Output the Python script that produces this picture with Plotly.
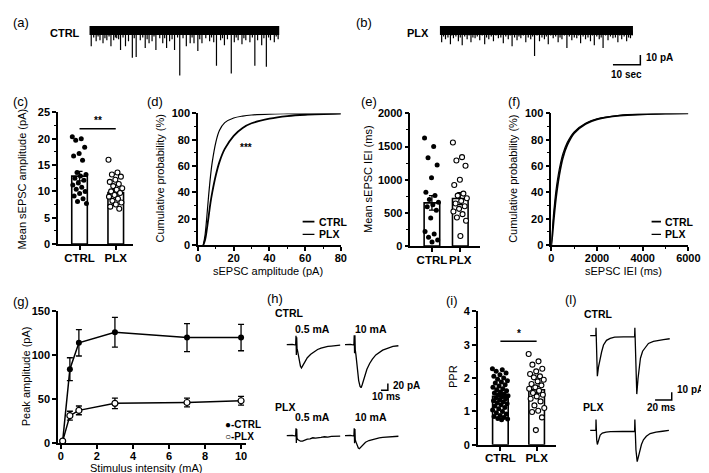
import plotly.graph_objects as go

W, H = 709, 473
FONT = "Liberation Sans"

# ---------------- data ----------------
groups = ["CTRL", "PLX"]

# (a),(b) spontaneous EPSC recordings: event times (s) and peak amplitudes (pA)
ctrl_trace_len_s = 69.3
ctrl_event_t = [0.7, 2.5, 3.9, 5.0, 6.4, 7.9, 8.9, 10.0, 11.4, 13.2, 14.3, 15.7, 17.1, 18.6,
                20.4, 21.8, 22.9, 24.3, 25.7, 26.8, 28.2, 29.3, 31.1, 33.0, 35.4, 36.8, 38.2,
                39.6, 41.1, 42.5, 43.9, 45.4, 46.4, 47.9, 49.3, 50.4, 51.8, 52.9, 54.3, 55.7,
                57.1, 58.6, 60.4, 61.4, 62.9, 64.6, 66.1, 67.5, 68.9]
ctrl_event_pa = [-16, -11, -10, -13, -10, -16, -10, -8, -20, -16, -11, -28, -27, -10,
                 -18, -13, -11, -20, -8, -13, -18, -11, -20, -46, -16, -13, -13,
                 -21, -13, -8, -11, -12, -36, -10, -15, -9, -44, -12, -10, -14,
                 -10, -12, -36, -10, -15, -37, -10, -12, -9]
ctrl_small_t = [1.6, 3.2, 5.7, 7.2, 9.5, 10.7, 12.3, 16.4, 19.5, 21.1, 23.6, 27.5, 30.2,
                32.2, 34.2, 37.5, 40.3, 44.6, 48.6, 53.6, 56.4, 59.5, 63.7, 65.4, 68.2]
ctrl_small_pa = [-7, -6, -8, -6, -7, -9, -7, -8, -7, -9, -6, -8, -9,
                 -7, -8, -7, -9, -7, -8, -7, -8, -7, -8, -7, -6]
plx_trace_len_s = 70.5
plx_event_t = [0.7, 2.1, 3.9, 5.0, 6.8, 8.2, 10.0, 11.4, 12.9, 14.6, 16.4, 17.9, 19.6, 21.4,
               23.2, 25.0, 26.4, 28.2, 29.6, 31.4, 33.2, 34.6, 36.4, 38.2, 39.6, 41.4, 43.2,
               44.6, 46.4, 48.2, 50.0, 51.4, 53.2, 55.0, 56.4, 58.2, 59.6, 61.4, 63.2, 65.0,
               66.4, 68.2, 69.6]
plx_event_pa = [-12, -9, -14, -8, -11, -15, -9, -12, -8, -10, -14, -9, -11, -8,
                -13, -9, -16, -10, -8, -12, -9, -26, -11, -9, -14, -8, -12,
                -9, -18, -10, -8, -13, -9, -11, -15, -9, -18, -10, -8, -12,
                -9, -11, -8]
plx_small_t = [1.4, 3.0, 4.4, 5.9, 7.5, 9.1, 10.7, 12.1, 13.7, 15.5, 17.1, 18.8, 20.5, 22.3,
               24.1, 25.7, 27.3, 28.9, 30.5, 32.3, 33.9, 35.5, 37.3, 38.9, 40.5, 42.3, 43.9,
               45.5, 47.3, 49.1, 50.7, 52.3, 54.1, 55.7, 57.3, 58.9, 60.5, 62.3, 64.1, 65.7,
               67.3, 68.9, 70.2]
plx_small_pa = [-6, -7, -5, -6, -7, -6, -5, -7, -6, -5, -7, -6, -5, -7,
                -6, -5, -7, -6, -5, -7, -6, -5, -7, -6, -5, -6, -7,
                -5, -6, -7, -5, -6, -7, -5, -6, -7, -5, -6, -7, -5,
                -6, -7, -5]
spont_scale_s = 10
spont_scale_pa = 10

# (c) mean sEPSC amplitude (pA)
amp_bar_mean = [12.9, 9.8]
amp_bar_sem = [0.9, 0.5]
amp_cells_ctrl = [20.4, 20.0, 19.7, 18.4, 17.2, 16.7, 15.9, 13.6, 13.2, 12.9, 12.5, 12.1,
                  11.6, 11.2, 10.8, 10.4, 10.0, 9.6, 9.1, 8.6, 8.1, 7.7]
amp_cells_plx = [16.0, 13.6, 13.2, 12.8, 12.2, 11.8, 11.4, 11.0, 10.6, 10.3, 10.0, 9.7,
                 9.3, 9.0, 8.6, 8.2, 7.9, 7.5, 7.1, 6.7]
amp_sig_level = 21.9

# (d) cumulative amplitude distribution
cdf_amp_pa = [3, 4, 5, 6, 7, 8, 10, 12, 15, 20, 25, 30, 40, 50, 60, 80]
cdf_amp_ctrl = [0, 4, 12, 22, 32, 40, 53, 63, 73, 83, 89, 92.5, 96, 98, 99, 99.8]
cdf_amp_plx = [0, 8, 22, 38, 52, 63, 78, 87, 93, 96.5, 98, 98.8, 99.5, 99.8, 100, 100]

# (e) mean sEPSC IEI (ms)
iei_bar_mean = [650, 715]
iei_bar_sem = [110, 90]
iei_cells_ctrl = [1630, 1500, 1330, 1220, 1030, 810, 760, 700, 660, 620, 590, 540, 420,
                  220, 180, 130, 90, 60]
iei_cells_plx = [1560, 1340, 1290, 1210, 1000, 920, 790, 760, 720, 680, 640, 600, 560,
                 520, 480, 430, 380, 150]

# (f) cumulative IEI distribution
cdf_iei_ms = [0, 50, 100, 150, 200, 300, 400, 500, 700, 1000, 1500, 2000, 3000, 4000, 5000, 6000]
cdf_iei_ctrl = [0, 8, 18, 27, 35, 48, 58, 66, 76, 85, 92, 95.5, 98.3, 99.3, 99.8, 100]
cdf_iei_plx = [0, 12, 24, 33, 41, 53, 62, 69, 78, 86, 92.5, 95.8, 98.5, 99.4, 99.8, 100]

# (g) input-output curve
stim_ma = [0.1, 0.5, 1, 3, 7, 10]
peak_ctrl = [2, 84, 114, 126, 120, 120]
peak_ctrl_sem = [1, 13, 15, 17, 16, 15]
peak_plx = [2, 31, 37, 45, 46, 48]
peak_plx_sem = [1, 5, 5, 6, 5, 5]
peak_sig_span = [48, 119]

# (h) evoked EPSC traces: time (ms), current (pA)
h_ctrl_05_t = [0, 8, 13, 13.5, 14, 14.5, 15, 16, 18, 20, 21.5, 23, 26, 30, 35, 40, 45, 50, 55, 60, 65, 70, 78]
h_ctrl_05_pa = [0, 1, -1, 26, -30, 22, -10, -20, -45, -63, -68, -62, -50, -38, -28, -20, -14, -10, -7, -5, -4, -2, -1]
h_ctrl_10_t = [0, 8, 13, 13.5, 14, 14.5, 15, 16, 18, 20, 22, 23.5, 25, 28, 32, 36, 40, 45, 50, 55, 60, 65, 70, 78]
h_ctrl_10_pa = [0, 1, -1, 28, -25, 28, -15, -30, -70, -105, -122, -126, -118, -95, -72, -55, -42, -30, -22, -16, -12, -8, -5, -3]
h_plx_05_t = [0, 8, 13, 13.5, 14, 14.5, 15, 16, 18, 20, 23, 26, 30, 34, 38, 42, 46, 50, 55, 60, 65, 70, 78]
h_plx_05_pa = [0, 1, -1, 22, -21, 20, -8, -11, -14, -16, -16, -13, -10, -9, -6, -7, -5, -5, -3, -4, -2, -2, -1]
h_plx_10_t = [0, 8, 13, 13.5, 14, 14.5, 15, 16, 18, 19.5, 21, 23, 26, 30, 35, 40, 45, 50, 55, 60, 65, 70, 78]
h_plx_10_pa = [0, 1, -1, 22, -22, 20, -12, -18, -30, -36, -38, -33, -26, -19, -14, -11, -8, -6, -5, -4, -3, -2, -1.5]
h_labels = ["0.5 mA", "10 mA"]
h_scale_ms = 10
h_scale_pa = 20

# (i) paired-pulse ratio
ppr_bar_mean = [1.45, 1.65]
ppr_bar_sem = [0.05, 0.1]
ppr_cells_ctrl = [2.28, 2.25, 2.2, 2.15, 2.1, 2.05, 2.0, 1.96, 1.92, 1.88, 1.85, 1.8, 1.76,
                  1.72, 1.68, 1.65, 1.62, 1.58, 1.55, 1.52, 1.5, 1.47, 1.44, 1.41, 1.38,
                  1.35, 1.32, 1.29, 1.26, 1.23, 1.2, 1.16, 1.12, 1.08, 1.04, 1.0, 0.96,
                  0.92, 0.88, 0.85, 0.82, 0.79, 0.77, 0.75]
ppr_cells_plx = [2.72, 2.50, 2.40, 2.28, 2.20, 2.12, 2.05, 2.02, 1.95, 1.90, 1.82, 1.78,
                 1.72, 1.68, 1.62, 1.55, 1.50, 1.45, 1.38, 1.30, 1.18, 1.10, 1.02, 0.98,
                 0.82, 0.44]
ppr_sig_level = 3.1

# (l) paired-pulse traces: time (ms), current (pA)
l_ctrl_t = [0, 5, 6.8, 7, 7.3, 7.8, 8.6, 10, 12, 13.7, 16, 19.6, 24, 29.4, 40, 50, 53.4, 53.7,
            54.1, 55, 56, 57.5, 60.4, 63, 66.3, 70, 76, 82, 88, 95.6]
l_ctrl_pa = [0, 0, 0, 10, -5, -30, -52, -40, -28, -21, -12, -6, -3.5, -2, -1.5, -1.5, -1.5, 10,
             -10, -55, -75, -55, -29, -20, -15, -10, -7.5, -6, -5, -4]
l_plx_t = [0, 5, 6.8, 7, 7.3, 7.8, 8.6, 10, 12, 14.6, 19, 24.4, 35, 45, 53.4, 53.7, 54.1, 55,
           56.5, 58.5, 61.6, 64, 67.5, 72, 79, 87, 94.6]
l_plx_pa = [0, 0, 0, 14, -4, -12, -18, -12, -6, -3.4, -2, -1.5, -1, -1, -1, 14, -6, -25, -40,
            -30, -18, -12, -7.5, -4, -2, -1, 0]
l_scale_ms = 20
l_scale_pa = 10

# ---------------- helpers ----------------
def xdom(a, b):
    return [a / W, b / W]


def ydom(top, bottom):
    return [1 - bottom / H, 1 - top / H]


def tfont(size=11, bold=True):
    return dict(family=FONT, size=size, color="black", weight="bold" if bold else "normal")


def vis_axis(dom, rng, anchor, **kw):
    d = dict(domain=dom, range=rng, anchor=anchor, showline=True, linecolor="black",
             linewidth=1.5, ticks="outside", ticklen=4, tickwidth=1.5, tickcolor="black",
             showgrid=False, zeroline=False, tickfont=tfont(11, True), fixedrange=True,
             tickangle=0)
    d.update(kw)
    return d


def hid_axis(dom, rng, anchor):
    return dict(domain=dom, range=rng, anchor=anchor, visible=False, fixedrange=True)


def minor(dt):
    return dict(dtick=dt, ticks="outside", ticklen=2.5, tickwidth=1.2, tickcolor="black", showgrid=False)


def spread(n, width):
    return [width * ((((i * 0.6180339887) % 1.0) * 2) - 1) for i in range(n)]


def events(ts, amps):
    xs, ys = [], []
    for t, a in zip(ts, amps):
        xs += [t, t, None]
        ys += [0, a, None]
    return xs, ys


anns = []


def pann(x, y, text, size=11, bold=False, xanchor="center", yanchor="middle", angle=0):
    anns.append(dict(xref="paper", yref="paper", x=x / W, y=1 - y / H, text=text,
                     showarrow=False, xanchor=xanchor, yanchor=yanchor, textangle=angle,
                     font=tfont(size, bold)))


def dann(ax, x, y, text, size=11, bold=True, xanchor="center", yanchor="middle"):
    anns.append(dict(xref="x" + ax, yref="y" + ax, x=x, y=y, text=text, showarrow=False,
                     xanchor=xanchor, yanchor=yanchor, font=tfont(size, bold)))


fig = go.Figure()
BLACK = "black"


def line(ax, x, y, width=1.3, shape="linear"):
    fig.add_trace(go.Scatter(x=x, y=y, mode="lines", xaxis="x" + ax, yaxis="y" + ax,
                             line=dict(color=BLACK, width=width, shape=shape),
                             cliponaxis=False, hoverinfo="skip"))


# ---------------- (a) & (b) ----------------
line("1", [0, ctrl_trace_len_s], [0, 0], width=9)
for ts, am in [(ctrl_event_t, ctrl_event_pa), (ctrl_small_t, ctrl_small_pa)]:
    ex, ey = events(ts, am)
    line("1", ex, ey, width=1.2)
line("2", [0, plx_trace_len_s], [0, 0], width=9)
for ts, am in [(plx_event_t, plx_event_pa), (plx_small_t, plx_small_pa)]:
    ex, ey = events(ts, am)
    line("2", ex, ey, width=1.2)
sb_x1, sb_y0 = 73.2, -35
line("2", [sb_x1 - spont_scale_s, sb_x1, sb_x1], [sb_y0, sb_y0, sb_y0 + spont_scale_pa], width=1.5)
dann("2", sb_x1 + 1.4, sb_y0 + spont_scale_pa / 2 + 2, f"{spont_scale_pa} pA", size=10, xanchor="left")
dann("2", sb_x1 - spont_scale_s / 2, sb_y0 - 10, f"{spont_scale_s} sec", size=10)


# ---------------- bar + dots panels ----------------
def bar_panel(ax, means, sems, ctrl, plx, bw, jw):
    fig.add_trace(go.Bar(x=[0, 1], y=means, width=bw, xaxis="x" + ax, yaxis="y" + ax,
                         marker=dict(color="white", line=dict(color=BLACK, width=1.6)),
                         error_y=dict(type="data", array=sems, color=BLACK, thickness=1.3, width=3),
                         hoverinfo="skip"))
    fig.add_trace(go.Scatter(x=[0 + j for j in spread(len(ctrl), jw)], y=ctrl, mode="markers",
                             xaxis="x" + ax, yaxis="y" + ax, cliponaxis=False,
                             marker=dict(size=5, color=BLACK), hoverinfo="skip"))
    fig.add_trace(go.Scatter(x=[1 + j for j in spread(len(plx), jw)], y=plx, mode="markers",
                             xaxis="x" + ax, yaxis="y" + ax, cliponaxis=False,
                             marker=dict(size=5, color="white", line=dict(color=BLACK, width=1.1)),
                             hoverinfo="skip"))


bar_panel("3", amp_bar_mean, amp_bar_sem, amp_cells_ctrl, amp_cells_plx, 0.43, 0.2)
line("3", [0, 1], [amp_sig_level, amp_sig_level], width=1.5)
dann("3", 0.5, amp_sig_level + 0.2, "**", size=10, yanchor="bottom")

bar_panel("5", iei_bar_mean, iei_bar_sem, iei_cells_ctrl, iei_cells_plx, 0.55, 0.26)

bar_panel("10", ppr_bar_mean, ppr_bar_sem, ppr_cells_ctrl, ppr_cells_plx, 0.43, 0.22)
line("10", [0, 1], [ppr_sig_level, ppr_sig_level], width=1.5)
dann("10", 0.5, ppr_sig_level + 0.02, "*", size=10, yanchor="bottom")

# ---------------- (d) & (f) cumulative ----------------
line("4", cdf_amp_pa, cdf_amp_ctrl, width=1.8, shape="spline")
line("4", cdf_amp_pa, cdf_amp_plx, width=1.2, shape="spline")
dann("4", 27, 74, "***", size=10)
line("6", cdf_iei_ms, cdf_iei_ctrl, width=1.8, shape="spline")
line("6", cdf_iei_ms, cdf_iei_plx, width=1.2, shape="spline")

# legends for (d) and (f)
for ax, x0, x1, xt in [("4", 58.6, 65.2, 66.5), ("6", 4390, 4800, 4900)]:
    line(ax, [x0, x1], [17.8, 17.8], width=1.8)
    line(ax, [x0, x1], [8.1, 8.1], width=1.2)
    dann(ax, xt, 17.8, groups[0], size=10.5, xanchor="left")
    dann(ax, xt, 8.1, groups[1], size=10.5, xanchor="left")

# ---------------- (g) input-output ----------------
fig.add_trace(go.Scatter(x=stim_ma, y=peak_ctrl, mode="lines+markers", xaxis="x7", yaxis="y7",
                         line=dict(color=BLACK, width=1.5), cliponaxis=False,
                         marker=dict(size=6, color=BLACK),
                         error_y=dict(type="data", array=peak_ctrl_sem, color=BLACK, thickness=1.3, width=3),
                         hoverinfo="skip"))
fig.add_trace(go.Scatter(x=stim_ma, y=peak_plx, mode="lines+markers", xaxis="x7", yaxis="y7",
                         line=dict(color=BLACK, width=1.5), cliponaxis=False,
                         marker=dict(size=6, color="white", line=dict(color=BLACK, width=1.2)),
                         error_y=dict(type="data", array=peak_plx_sem, color=BLACK, thickness=1.3, width=3),
                         hoverinfo="skip"))
line("7", [10.4, 10.4], peak_sig_span, width=1.5)
dann("7", 10.55, sum(peak_sig_span) / 2, "***", size=10, xanchor="left")
dann("7", 9.0, 20.5, "●-" + groups[0], size=10, xanchor="left")
dann("7", 9.0, 7.5, "○-" + groups[1], size=10, xanchor="left")

# ---------------- (h) evoked traces ----------------
h_gap = 85
line("8", h_ctrl_05_t, h_ctrl_05_pa, width=1.3)
line("8", [t + h_gap for t in h_ctrl_10_t], h_ctrl_10_pa, width=1.3)
line("9", h_plx_05_t, h_plx_05_pa, width=1.3)
line("9", [t + h_gap for t in h_plx_10_t], h_plx_10_pa, width=1.3)
hx1, hy0 = 147.6, -133.4
line("8", [hx1 - h_scale_ms, hx1, hx1], [hy0, hy0, hy0 + h_scale_pa], width=1.5)
dann("8", hx1 + 5, hy0 + h_scale_pa / 2 + 4, f"{h_scale_pa} pA", size=10, xanchor="left")
dann("8", hx1 - 2, hy0 - 17, f"{h_scale_ms} ms", size=10)

# ---------------- (l) paired-pulse traces ----------------
line("11", l_ctrl_t, l_ctrl_pa, width=1.3)
line("12", l_plx_t, l_plx_pa, width=1.3)
lx1, ly0 = 98, -82.5
line("11", [lx1 - l_scale_ms, lx1, lx1], [ly0, ly0, ly0 + l_scale_pa], width=1.5)
dann("11", lx1 + 3.5, ly0 + l_scale_pa + 4, f"{l_scale_pa} pA", size=10, xanchor="left")
dann("11", lx1 - l_scale_ms / 2 - 2, ly0 - 10, f"{l_scale_ms} ms", size=10)

# ---------------- text annotations (paper) ----------------
for lab, x, y in [("(a)", 0, 9), ("(b)", 350, 9), ("(c)", 0, 90), ("(d)", 137, 90),
                  ("(e)", 356, 90), ("(f)", 506, 90), ("(g)", 0, 295), ("(h)", 259, 292),
                  ("(i)", 442, 294), ("(l)", 564, 293)]:
    pann(x, y, lab, size=13, xanchor="left")

pann(73, 19, groups[0], size=11, bold=True, xanchor="right")
pann(429, 19, groups[1], size=11, bold=True, xanchor="right")

pann(11, 169, "Mean sEPSC amplitude (pA)", size=11, angle=-90)
pann(152, 169, "Cumulative probability (%)", size=11, angle=-90)
pann(364, 169, "Mean sEPSC IEI (ms)", size=11, angle=-90)
pann(513, 169, "Cumulative probability (%)", size=11, angle=-90)
pann(15, 372, "Peak amplitude (pA)", size=11, angle=-90)
pann(451, 372, "PPR", size=11, angle=-90)
pann(263, 264, "sEPSC amplitude (pA)", size=11)
pann(626, 264, "sEPSC IEI (ms)", size=11)
pann(138, 466, "Stimulus intensity (mA)", size=11)

# (h) labels
pann(268, 307, groups[0], size=10.5, bold=True, xanchor="left")
pann(268, 403, groups[1], size=10.5, bold=True, xanchor="left")
for lab, x in zip(h_labels, [308, 368]):
    pann(x, 323, lab, size=10.5, bold=True)
    pann(x, 414, lab, size=10.5, bold=True)
# (l) labels
pann(583, 308, groups[0], size=10.5, bold=True, xanchor="left")
pann(582, 403, groups[1], size=10.5, bold=True, xanchor="left")

# ---------------- axes ----------------
lay = dict(width=W, height=H, margin=dict(l=0, r=0, t=0, b=0), paper_bgcolor="white",
           plot_bgcolor="white", showlegend=False, annotations=anns, barmode="overlay")

lay["xaxis"] = hid_axis(xdom(80, 276), [0, 70], "y")
lay["yaxis"] = hid_axis(ydom(4, 72), [-55, 13], "x")
lay["xaxis2"] = hid_axis(xdom(438, 705), [0, 95.36], "y2")
lay["yaxis2"] = hid_axis(ydom(4, 72), [-55, 13], "x2")

XS = dict(ticklabelstandoff=-2)
cat = dict(tickvals=[0, 1], ticktext=groups, tickfont=tfont(11.5, True), **XS)
lay["xaxis3"] = vis_axis(xdom(48, 125), [-0.595, 1.486], "y3", **cat)
lay["yaxis3"] = vis_axis(ydom(101, 236), [0, 25], "x3", dtick=5, minor=minor(2.5))
lay["xaxis4"] = vis_axis(xdom(191, 337), [0, 80], "y4", dtick=20, minor=minor(10), **XS)
lay["yaxis4"] = vis_axis(ydom(102, 237), [0, 100], "x4", dtick=20, minor=minor(10))
lay["xaxis5"] = vis_axis(xdom(408, 479), [-0.76, 1.69], "y5", **cat)
lay["yaxis5"] = vis_axis(ydom(102, 238), [0, 2000], "x5", dtick=500, minor=minor(250))
lay["xaxis6"] = vis_axis(xdom(552, 692), [0, 6000], "y6", dtick=2000, minor=minor(1000), **XS)
lay["yaxis6"] = vis_axis(ydom(102, 237), [0, 100], "x6", dtick=20, minor=minor(10))
lay["xaxis7"] = vis_axis(xdom(48, 240), [-0.16, 10.27], "y7", dtick=2, tick0=0, **XS)
lay["yaxis7"] = vis_axis(ydom(305, 440), [0, 150], "x7", dtick=50)
lay["xaxis8"] = hid_axis(xdom(275, 420), [-9.6, 197.6], "y8")
lay["yaxis8"] = hid_axis(ydom(318, 395), [-159, 60.9], "x8")
lay["xaxis9"] = hid_axis(xdom(275, 420), [-9.6, 197.6], "y9")
lay["yaxis9"] = hid_axis(ydom(420, 455), [-63.7, 36.3], "x9")
lay["xaxis10"] = vis_axis(xdom(477, 557), [-0.62, 1.54], "y10", **cat)
lay["yaxis10"] = vis_axis(ydom(305, 442), [0, 4], "x10", dtick=1, minor=minor(0.5))
lay["xaxis11"] = hid_axis(xdom(585, 705), [-7.9, 133.3], "y11")
lay["yaxis11"] = hid_axis(ydom(312, 410), [-100, 22.5], "x11")
lay["xaxis12"] = hid_axis(xdom(585, 705), [-7.9, 133.3], "y12")
lay["yaxis12"] = hid_axis(ydom(405, 468), [-50.9, 27.9], "x12")

fig.update_layout(**lay)
fig.write_html("out.html")
